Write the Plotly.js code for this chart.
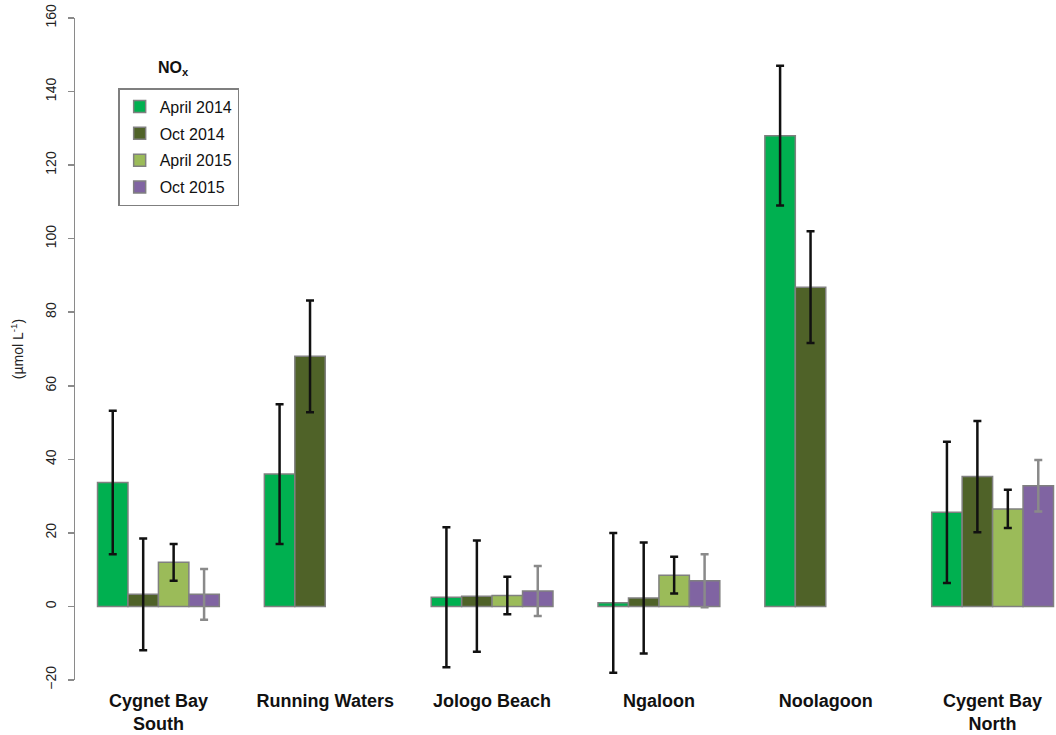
<!DOCTYPE html>
<html>
<head>
<meta charset="utf-8">
<script src="https://cdn.plot.ly/plotly-3.0.1.min.js"></script>
<style>html,body{margin:0;padding:0;background:#fff;}</style>
</head>
<body>
<div id="chart" style="width:1056px;height:735px;"></div>
<script>
const sites = ["Cygnet Bay<br>South", "Running Waters", "Jologo Beach", "Ngaloon", "Noolagoon", "Cygent Bay<br>North"];
const seriesNames = ["April 2014", "Oct 2014", "April 2015", "Oct 2015"];
const april2014 = [33.7, 36, 2.5, 1, 128, 25.6];
const oct2014 = [3.3, 68, 2.8, 2.3, 86.8, 35.3];
const april2015 = [12, null, 3, 8.5, null, 26.5];
const oct2015 = [3.3, null, 4.2, 7, null, 32.8];
const april2014Err = [19.5, 19, 19, 19, 19, 19.2];
const oct2014Err = [15.2, 15.2, 15.1, 15.1, 15.2, 15.1];
const april2015Err = [5, 0, 5.1, 5, 0, 5.2];
const oct2015Err = [6.9, 0, 6.8, 7.2, 0, 7];

const colors = ["#00B050", "#4F6228", "#9BBB59", "#8064A2"];
const errColors = ["#111111", "#111111", "#111111", "#8a8a8a"];
const values = [april2014, oct2014, april2015, oct2015];
const errs = [april2014Err, oct2014Err, april2015Err, oct2015Err];

const traces = values.map((v, i) => ({
  type: "bar",
  name: seriesNames[i],
  x: sites,
  y: v,
  legendgroup: "g" + i,
  marker: {color: colors[i], line: {color: "#808080", width: 1.5}},
  error_y: {type: "data", array: errs[i], visible: true, color: errColors[i], thickness: 2.5, width: 4}
}));

const layout = {
  width: 1056, height: 735,
  margin: {l: 75, r: 0, t: 18, b: 55},
  paper_bgcolor: "#fff", plot_bgcolor: "#fff",
  font: {family: "Liberation Sans, Arial, sans-serif", color: "#111"},
  barmode: "group",
  bargap: 0.27,
  bargroupgap: 0,
  showlegend: true,
  legend: {
    x: 0.044, y: 0.894, xanchor: "left", yanchor: "top",
    bordercolor: "#7f7f7f", borderwidth: 1.5,
    font: {size: 16, color: "#111"},
    traceorder: "grouped", tracegroupgap: 3,
    itemwidth: 30,
    itemclick: false
  },
  annotations: [{
    text: "<b>NO<sub>x</sub></b>", xref: "paper", yref: "paper",
    x: 0.1, y: 0.924, xanchor: "center", yanchor: "middle",
    showarrow: false, font: {size: 16, color: "#111"}
  }],
  xaxis: {
    type: "category",
    range: [-0.5, 5.38],
    showline: false, ticks: "", showgrid: false, zeroline: false,
    tickfont: {size: 18, weight: "bold", color: "#111"},
    ticklabelstandoff: 8
  },
  yaxis: {
    range: [-20, 160], dtick: 20, tick0: 0,
    showline: true, linecolor: "#8a8a8a", linewidth: 1.5,
    ticks: "outside", ticklen: 6, tickcolor: "#8a8a8a", tickwidth: 1.5,
    showgrid: false, zeroline: false,
    tickangle: -90,
    ticklabelstandoff: 6,
    tickfont: {size: 14, color: "#222"},
    title: {text: "(µmol L<sup>-1</sup>)", font: {size: 14, color: "#222"}, standoff: 16}
  }
};

Plotly.newPlot("chart", traces, layout, {displayModeBar: false, staticPlot: true});
</script>
</body>
</html>
